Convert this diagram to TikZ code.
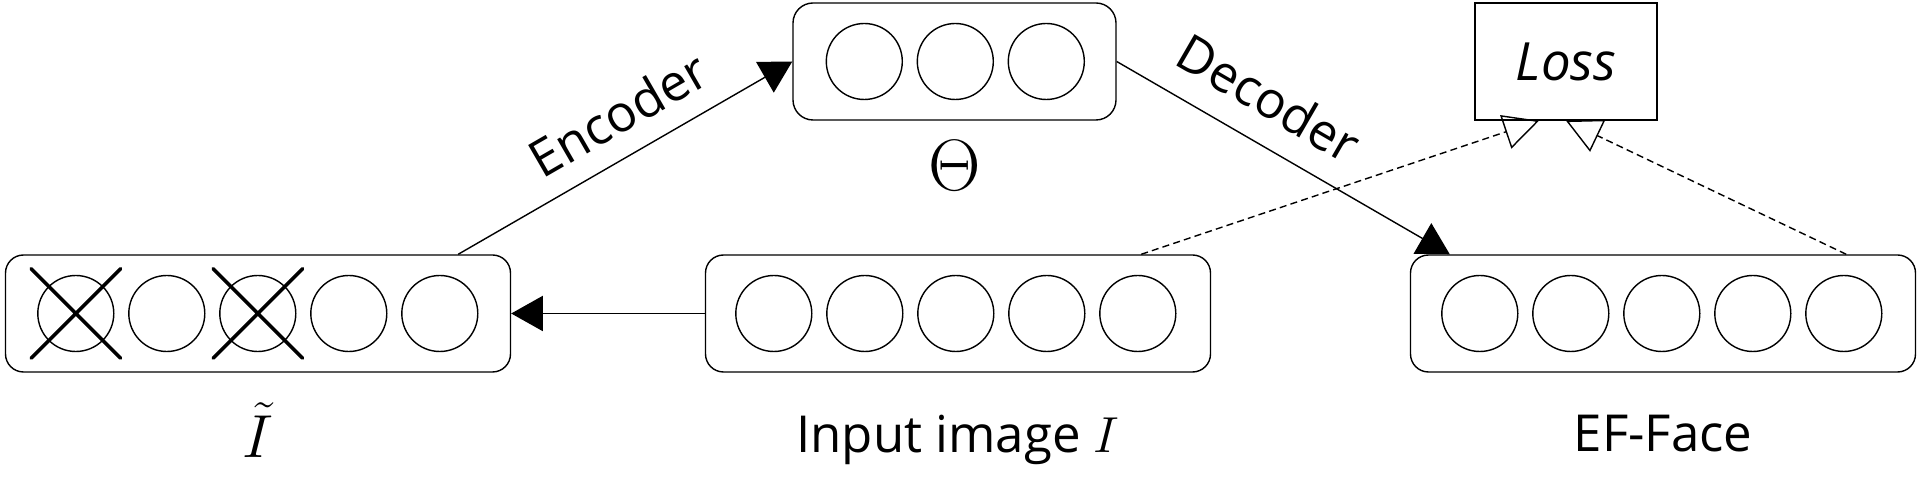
\documentclass[tikz,border=0pt]{standalone}
\usepackage{fontspec}
\setmainfont{Open Sans}
\usepackage{tikz}
\usetikzlibrary{positioning,arrows.meta,shapes.misc}

\begin{document}
\begin{tikzpicture}[
  layer/.style={rectangle, draw, rounded corners=0.18cm, minimum height=1.17cm, inner sep=0pt, line width=0.4pt},
  unit/.style={circle, draw, minimum size=7.6mm, inner sep=0pt, line width=0.4pt},
  drop/.style={cross out, draw, line width=1pt, line cap=round, minimum size=8.6mm, inner sep=0pt},
  arr/.style={-{Triangle[length=9pt, width=10pt]}, line width=0.4pt},
  lossarr/.style={-{Triangle[open, length=10pt, width=10pt]}, line width=0.4pt, dash pattern=on 2pt off 1.2pt},
  lbl/.style={font=\fontsize{14.5}{17}\selectfont, inner sep=2pt},
]
  \useasboundingbox (0,0) rectangle (19.22,4.91);

  % Layers
  \node[layer, minimum width=5.05cm] (tilde) at (2.58,1.775) {};
  \node[layer, minimum width=5.05cm] (input) at (9.58,1.775) {};
  \node[layer, minimum width=5.05cm] (ef)    at (16.63,1.775) {};
  \node[layer, minimum width=3.23cm, rounded corners=0.2cm] (theta) at (9.545,4.295) {};
  \node[draw, line width=0.4pt, minimum width=1.82cm, minimum height=1.17cm] (loss) at (15.66,4.295)
    {\fontsize{15}{18}\selectfont\itshape Loss};

  % Units
  \foreach \i in {1,...,5} {
    \node[unit] (t\i) at ([xshift={0.71cm+(\i-1)*0.91cm}]tilde.west) {};
    \node[unit] (x\i) at ([xshift={0.69cm+(\i-1)*0.91cm}]input.west) {};
    \node[unit] (e\i) at ([xshift={0.70cm+(\i-1)*0.91cm}]ef.west) {};
  }
  \foreach \i in {1,2,3}
    \node[unit] (h\i) at ([xshift={0.72cm+(\i-1)*0.91cm}]theta.west) {};
  \foreach \i in {1,3}
    \node[drop] at (t\i) {};

  % Labels
  \node[lbl, font=\fontsize{19}{22}\selectfont, below=0.22cm of tilde] (tlab) {$\tilde{I}$};
  \node[lbl, below=0.35cm of input] (xlab) {Input image $I$};
  \node[lbl, below=0.35cm of ef] (elab) {EF-Face};
  \node[lbl, font=\fontsize{21}{24}\selectfont, below=0.12cm of theta] (hlab) {$\Theta$};

  % Connectors
  \draw[arr] (input.west) -- (tilde.east);
  \draw[arr] ([xshift=-0.53cm]tilde.north east) -- node[lbl, sloped, above=4pt, pos=0.54] {Encoder} (theta.west);
  \draw[arr] (theta.east) -- node[lbl, sloped, above=5pt, pos=0.39] {Decoder} ([xshift=0.4cm]ef.north west);
  \draw[lossarr] ([xshift=-0.70cm]input.north east) -- ([xshift=-0.27cm]loss.south);
  \draw[lossarr] ([xshift=-0.70cm]ef.north east) -- (loss.south);
\end{tikzpicture}
\end{document}
